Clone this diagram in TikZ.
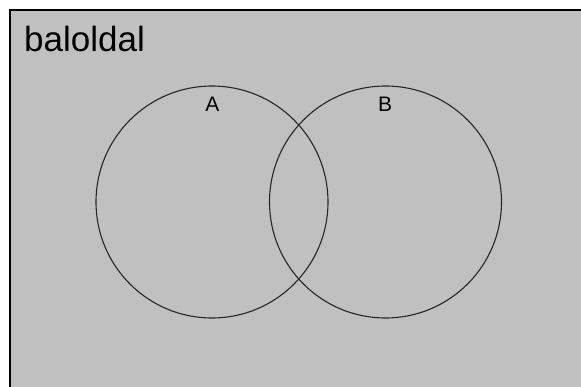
\documentclass[tikz,border=0pt]{standalone}
\usepackage{fontspec}
\setmainfont{Liberation Sans}
\begin{document}
\begin{tikzpicture}[x=1pt,y=-1pt,
  setring/.style={draw=black!85,line width=1.1pt},
  setlabel/.style={font=\fontsize{21}{21}\selectfont,inner sep=0pt,anchor=center}]
\useasboundingbox (0,0) rectangle (581,387);
\fill[white] (0,0) rectangle (581,387);
\fill[fill={rgb,255:red,192;green,192;blue,192}] (9,9) rectangle (585,391);
\draw[line width=2pt] (10,391) -- (10,10) -- (585,10);
\node[anchor=base west,inner sep=0pt,font=\fontsize{35}{35}\selectfont] (title) at (24,52) {baloldal};
\node[setring,circle,minimum size=232pt,inner sep=0pt] (A) at (212,202) {};
\node[setring,circle,minimum size=232pt,inner sep=0pt] (B) at (385.5,202) {};
\node[setlabel] (la) at (212.5,104) {A};
\node[setlabel] (lb) at (385,104) {B};
\end{tikzpicture}
\end{document}
